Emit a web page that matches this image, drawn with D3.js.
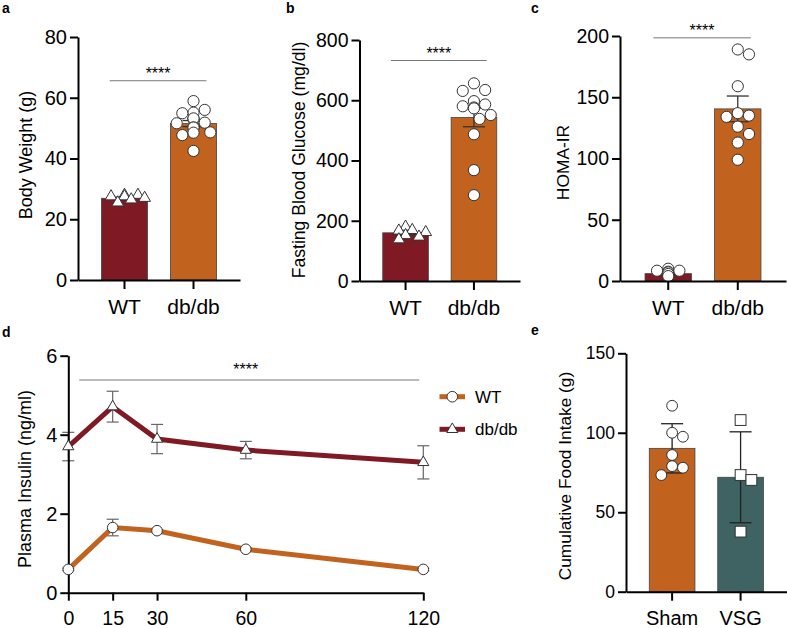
<!DOCTYPE html>
<html><head><meta charset="utf-8">
<script src="https://cdn.jsdelivr.net/npm/d3@7"></script>
<style>
body{margin:0;background:#fff}
svg{display:block;font-family:"Liberation Sans",Arial,Helvetica,sans-serif}
</style>
</head><body>
<svg id="chart" width="787" height="628"></svg>
<script>
// ---------------- DATA ----------------
const groupsDb = ["WT", "db/db"];
const bodyWeightMean = [26.9, 51.5];
const bodyWeightSem = [0.4, 1.0];
const bodyWeightWT = [27.5, 28, 28, 27.5, 27, 26.5, 25.5];
const bodyWeightDb = [58.9, 56, 55.1, 54.9, 53, 52.9, 53.2, 51.8, 51.6, 50.2, 50.2, 48.5, 48.6, 47.7, 42.5];
const bodyWeightTicks = [0, 20, 40, 60, 80];

const glucoseMean = [160, 543];
const glucoseSem = [6, 31];
const glucoseWT = [180, 167, 169, 162, 147, 152, 138];
const glucoseDb = [656, 634, 631, 597, 586, 580, 576, 573, 551, 538, 487, 368, 285];
const glucoseTicks = [0, 200, 400, 600, 800];

const homaMean = [6, 140.5];
const homaSem = [1, 10.5];
const homaWT = [10, 7.6, 7, 8.4, 8.4, 5.7, 4];
const homaDb = [189, 185, 159, 137, 135, 134, 126, 120, 113, 99];
const homaTicks = [0, 50, 100, 150, 200];

const insulinTimes = [0, 15, 30, 60, 120];
const insulinWT = [0.59, 1.65, 1.57, 1.10, 0.59];
const insulinWTSem = [0.03, 0.21, 0.03, 0.03, 0.03];
const insulinDb = [3.70, 4.71, 3.89, 3.61, 3.30];
const insulinDbSem = [0.36, 0.39, 0.37, 0.22, 0.42];
const insulinTicks = [0, 2, 4, 6];
const insulinSeries = ["WT", "db/db"];

const foodGroups = ["Sham", "VSG"];
const foodMean = [90.2, 72];
const foodSd = [15.5, 28.6];
const foodSham = [117, 100, 97.5, 86, 79, 78, 73.4];
const foodVSG = [108, 73.4, 70.3, 37.8];
const foodTicks = [0, 50, 100, 150];

const sigLabel = "****";

// ---------------- STYLE ----------------
const C_WT = "#7f1a25", C_DB = "#c1621f", C_VSG = "#3f6262";
const svg = d3.select("#chart");

function styleAxis(g, fontSize) {
  g.selectAll("path.domain").attr("stroke", "#000").attr("stroke-width", 2);
  g.selectAll(".tick line").attr("stroke", "#000").attr("stroke-width", 2);
  g.selectAll(".tick text").attr("fill", "#000").attr("font-size", fontSize)
    .attr("font-family", "Liberation Sans, Arial, sans-serif");
}

function swarm(values, y, stepPx, minDist, maxOff) {
  const idx = values.map((v, i) => i).sort((a, b) => values[b] - values[a]);
  const placed = [], offs = new Array(values.length).fill(0);
  for (const i of idx) {
    const py = y(values[i]);
    let best = 0;
    for (let s = 0; s < 80; s++) {
      const cand = s === 0 ? 0 : (s % 2 ? 1 : -1) * Math.ceil(s / 2) * stepPx;
      if (Math.abs(cand) > maxOff) continue;
      if (placed.every(p => Math.hypot(p.x - cand, p.y - py) >= minDist)) { best = cand; break; }
    }
    offs[i] = best; placed.push({x: best, y: py});
  }
  return offs;
}

function drawMarker(g, shape, cx, cy, size) {
  if (shape === "circle") {
    g.append("circle").attr("cx", cx).attr("cy", cy).attr("r", size)
      .attr("fill", "#fff").attr("stroke", "#333").attr("stroke-width", 1);
  } else if (shape === "triangle") {
    g.append("path").attr("d", d3.symbol(d3.symbolTriangle, size * size * 1.9)())
      .attr("transform", `translate(${cx},${cy})`)
      .attr("fill", "#fff").attr("stroke", "#333").attr("stroke-width", 1);
  } else {
    g.append("rect").attr("x", cx - size).attr("y", cy - size).attr("width", size * 2).attr("height", size * 2)
      .attr("fill", "#fff").attr("stroke", "#333").attr("stroke-width", 1);
  }
}

function barPanel(cfg) {
  const g = svg.append("g");
  const x = d3.scaleBand().domain(cfg.cats).range(cfg.xr).paddingInner(0.333).paddingOuter(cfg.po);
  const y = d3.scaleLinear().domain([0, cfg.ymax]).range(cfg.yr);
  const bw = x.bandwidth();
  cfg.cats.forEach((c, i) => {
    g.append("rect").attr("x", x(c)).attr("y", y(cfg.means[i])).attr("width", bw)
      .attr("height", y(0) - y(cfg.means[i])).attr("fill", cfg.colors[i])
      .attr("stroke", "#444").attr("stroke-width", 0.8);
  });
  cfg.cats.forEach((c, i) => {
    const cx = x(c) + bw / 2;
    const hi = y(cfg.means[i] + cfg.errs[i]), lo = y(cfg.means[i] - cfg.errs[i]);
    g.append("line").attr("x1", cx).attr("x2", cx).attr("y1", hi).attr("y2", lo).attr("stroke", cfg.errColor || "#333").attr("stroke-width", 1.3);
    [hi, lo].forEach(yy => g.append("line").attr("x1", cx - 11).attr("x2", cx + 11).attr("y1", yy).attr("y2", yy)
      .attr("stroke", cfg.errColor || "#333").attr("stroke-width", 1.3));
  });
  cfg.cats.forEach((c, i) => {
    const vals = cfg.points[i];
    const md = cfg.shapes[i] === "triangle" ? cfg.r * 1.3 : cfg.r * 2;
    const step = cfg.shapes[i] === "triangle" ? cfg.r * 1.2 : cfg.r;
    const offs = swarm(vals, y, step, md, bw / 2 - 1);
    vals.forEach((v, j) => drawMarker(g, cfg.shapes[i], x(c) + bw / 2 + offs[j], y(v), cfg.r));
  });
  const ya = g.append("g").attr("transform", `translate(${cfg.xr[0]},0)`)
    .call(d3.axisLeft(y).tickValues(cfg.ticks).tickFormat(d3.format("d")).tickSize(8).tickPadding(3).tickSizeOuter(0));
  styleAxis(ya, cfg.tickFont);
  const xa = g.append("g").attr("transform", `translate(0,${cfg.yr[0]})`)
    .call(d3.axisBottom(x).tickSize(9).tickPadding(cfg.catPad).tickSizeOuter(0));
  styleAxis(xa, cfg.catFont);
  g.append("text").attr("transform", `translate(${cfg.titleX},${cfg.titleY}) rotate(-90)`)
    .attr("text-anchor", "middle").attr("font-size", cfg.titleFont).text(cfg.title);
  if (cfg.sig) {
    const sy = y(cfg.sig);
    const xa1 = x(cfg.cats[0]) + bw * 0.18, xa2 = x(cfg.cats[1]) + bw * 0.78;
    g.append("line").attr("x1", xa1).attr("x2", xa2).attr("y1", sy).attr("y2", sy).attr("stroke", "#777").attr("stroke-width", 1);
    g.append("text").attr("x", (xa1 + xa2) / 2).attr("y", sy - 1.5).attr("text-anchor", "middle")
      .attr("font-size", 16).text(sigLabel);
  }
  g.append("text").attr("x", cfg.letter[1]).attr("y", cfg.letter[2]).attr("font-weight", "bold")
    .attr("font-size", 14).text(cfg.letter[0]);
  return g;
}

barPanel({cats: groupsDb, means: bodyWeightMean, errs: bodyWeightSem,
  points: [bodyWeightWT, bodyWeightDb], shapes: ["triangle", "circle"], colors: [C_WT, C_DB],
  xr: [78, 240], po: 0.34, yr: [280, 37], ymax: 80, ticks: bodyWeightTicks, r: 5.6,
  tickFont: 20, catFont: 21, catPad: 10, title: "Body Weight (g)", titleX: 32, titleY: 155, titleFont: 18,
  sig: 65.6, letter: ["a", 2, 13]});

barPanel({cats: groupsDb, means: glucoseMean, errs: glucoseSem,
  points: [glucoseWT, glucoseDb], shapes: ["triangle", "circle"], colors: [C_WT, C_DB],
  xr: [359.5, 520], po: 0.34, yr: [281, 40], ymax: 800, ticks: glucoseTicks, r: 5.6,
  tickFont: 19.5, catFont: 21, catPad: 10, title: "Fasting Blood Glucose (mg/dl)", titleX: 304.5, titleY: 160, titleFont: 17.6,
  sig: 732, letter: ["b", 286, 13]});

barPanel({cats: groupsDb, means: homaMean, errs: homaSem,
  points: [homaWT, homaDb], shapes: ["circle", "circle"], colors: [C_WT, C_DB],
  xr: [620, 786], po: 0.36, yr: [281, 36], ymax: 200, ticks: homaTicks, r: 5.6,
  tickFont: 19.5, catFont: 21, catPad: 10, title: "HOMA-IR", titleX: 568.5, titleY: 162.5, titleFont: 17.4,
  sig: 198.5, letter: ["c", 531, 13]});

barPanel({cats: foodGroups, means: foodMean, errs: foodSd,
  points: [foodSham, foodVSG], shapes: ["circle", "square"], colors: [C_DB, C_VSG],
  xr: [626, 786.7], po: 0.34, yr: [591.7, 353.3], ymax: 150, ticks: foodTicks, r: 5.4,
  tickFont: 17.5, catFont: 20, catPad: 10, title: "Cumulative Food Intake (g)", titleX: 571, titleY: 476, titleFont: 17.3,
  sig: null, letter: ["e", 531, 335], errColor: "#222"});

// ---------------- PANEL D ----------------
(function () {
  const g = svg.append("g");
  const x = d3.scaleLinear().domain([0, 120]).range([68.3, 423.3]);
  const y = d3.scaleLinear().domain([0, 6]).range([592.7, 355.7]);
  const series = [
    {name: insulinSeries[0], vals: insulinWT, sem: insulinWTSem, color: C_DB, shape: "circle"},
    {name: insulinSeries[1], vals: insulinDb, sem: insulinDbSem, color: C_WT, shape: "triangle"}
  ];
  series.forEach(s => {
    insulinTimes.forEach((t, i) => {
      const cx = x(t), hi = y(s.vals[i] + s.sem[i]), lo = y(s.vals[i] - s.sem[i]);
      g.append("line").attr("x1", cx).attr("x2", cx).attr("y1", hi).attr("y2", lo).attr("stroke", "#666").attr("stroke-width", 1.2);
      [hi, lo].forEach(yy => g.append("line").attr("x1", cx - 6).attr("x2", cx + 6).attr("y1", yy).attr("y2", yy)
        .attr("stroke", "#666").attr("stroke-width", 1.2));
    });
  });
  const line = d3.line().x((d, i) => x(insulinTimes[i])).y(d => y(d));
  series.forEach(s => {
    g.append("path").datum(s.vals).attr("d", line).attr("fill", "none")
      .attr("stroke", s.color).attr("stroke-width", 5);
  });
  const ya = g.append("g").attr("transform", `translate(${x(0)},0)`)
    .call(d3.axisLeft(y).tickValues(insulinTicks).tickFormat(d3.format("d")).tickSize(8).tickPadding(3).tickSizeOuter(0));
  styleAxis(ya, 20);
  const xa = g.append("g").attr("transform", `translate(0,${y(0)})`)
    .call(d3.axisBottom(x).tickValues(insulinTimes).tickFormat(d3.format("d")).tickSize(8).tickPadding(10).tickSizeOuter(0));
  styleAxis(xa, 19.5);
  series.forEach(s => {
    s.vals.forEach((v, i) => drawMarker(g, s.shape, x(insulinTimes[i]), y(v), 5.3));
  });
  g.append("text").attr("transform", `translate(31,479) rotate(-90)`)
    .attr("text-anchor", "middle").attr("font-size", 18).text("Plasma Insulin (ng/ml)");
  const sx1 = x(3.7), sx2 = x(118.6), sy = 380;
  g.append("line").attr("x1", sx1).attr("x2", sx2).attr("y1", sy).attr("y2", sy).attr("stroke", "#777").attr("stroke-width", 1);
  g.append("text").attr("x", x(60)).attr("y", 375).attr("text-anchor", "middle").attr("font-size", 16).text(sigLabel);
  series.forEach((s, i) => {
    const ly = 396.7 + i * 32.6;
    g.append("line").attr("x1", 439.5).attr("x2", 465).attr("y1", ly).attr("y2", ly).attr("stroke", s.color).attr("stroke-width", 5);
    drawMarker(g, s.shape, 452.3, ly, 5.3);
    g.append("text").attr("x", 475).attr("y", ly + 6).attr("font-size", 17).text(s.name);
  });
  g.append("text").attr("x", 2).attr("y", 337).attr("font-weight", "bold").attr("font-size", 14).text("d");
})();
</script>
</body></html>
